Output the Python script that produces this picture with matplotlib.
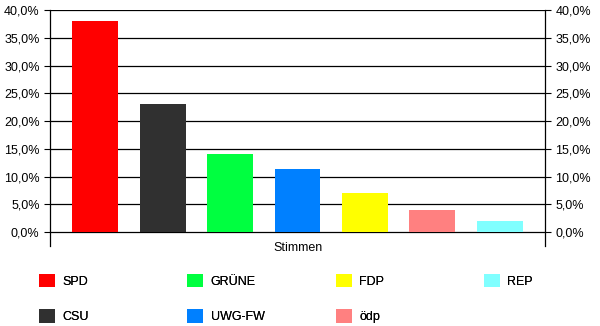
import matplotlib
matplotlib.use('Agg')
import matplotlib.pyplot as plt
from matplotlib.ticker import FuncFormatter, MultipleLocator

# =========================
# Data
# =========================

parties = ['SPD', 'CSU', 'GRÜNE', 'UWG-FW', 'FDP', 'ödp', 'REP']
shares = [38.0, 23.0, 14.05, 11.35, 7.1, 3.95, 2.05]
colors = ['#ff0000', '#303030', '#00ff40', '#0080ff', '#ffff00', '#ff8080', '#80ffff']
category = 'Stimmen'

plt.rcParams['font.family'] = 'Liberation Sans'
plt.rcParams['font.size'] = 9

# =========================
# Figure
# =========================

fig = plt.figure(figsize=(6.0, 3.26), dpi=100)
ax = fig.add_axes([50 / 600, 1 - 246 / 326, 495 / 600, 236 / 326])

bars = ax.bar(range(len(parties)), shares, width=0.68, color=colors, zorder=3)

ax.set_xlim(-0.67, len(parties) - 1 + 0.67)
ax.set_ylim(-2.5, 40)
ax.yaxis.set_major_locator(MultipleLocator(5))
ax.set_yticks([v * 5 for v in range(9)])
fmt = FuncFormatter(lambda v, p: ('%.1f%%' % v).replace('.', ','))
ax.yaxis.set_major_formatter(fmt)
ax.tick_params(axis='y', which='both', left=True, right=True, labelleft=True,
               labelright=True, length=4.5, width=0.8, direction='out', pad=3)
ax.set_xticks([])

for v in range(9):
    ax.axhline(v * 5, color='black', lw=0.9, zorder=2)

for side in ['top', 'bottom']:
    ax.spines[side].set_visible(False)
for side in ['left', 'right']:
    ax.spines[side].set_linewidth(0.9)

fig.text(298 / 600, 1 - 248 / 326, category, ha='center', va='center')

# =========================
# Legend (four fixed columns)
# =========================

col_x = [29, 177, 326, 474]
for c in range(4):
    idx = [i for i in (2 * c, 2 * c + 1) if i < len(parties)]
    leg = fig.legend([bars.patches[i] for i in idx], [parties[i] for i in idx],
                     loc='upper left', bbox_to_anchor=(col_x[c] / 600, 1 - 264 / 326),
                     frameon=False, handlelength=1.28, handleheight=1.28,
                     handletextpad=0.6, labelspacing=1.72, borderpad=0.3)
    fig.add_artist(leg)

fig.savefig('out.png', dpi=100)
